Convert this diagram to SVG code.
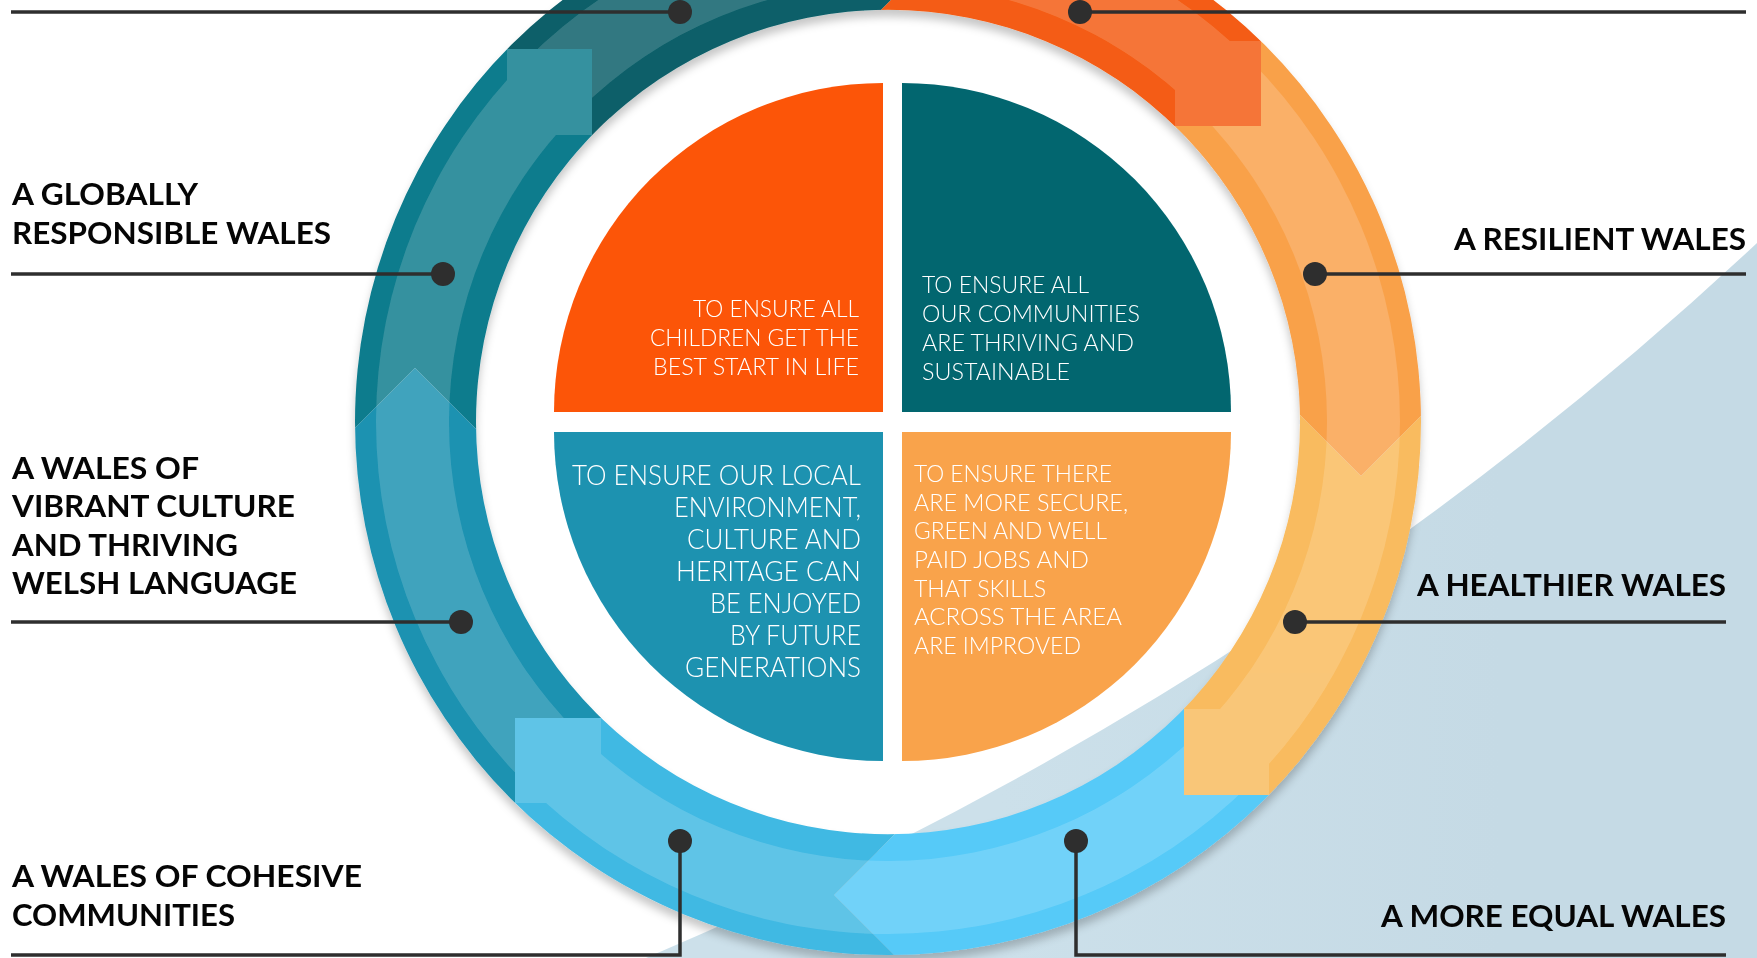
<svg xmlns="http://www.w3.org/2000/svg" width="1757" height="958" viewBox="0 0 1757 958">
<defs>
<style>
.lbl{font-family:Lato,"Liberation Sans",sans-serif;font-weight:700;font-size:31px;fill:#050505}
.qt{font-family:Lato,"Liberation Sans",sans-serif;font-weight:300;font-size:23.5px;fill:#ffffff}
.qb{font-size:26.5px}
.lead{fill:none;stroke:#2e2e2e;stroke-width:3.5}
.dot{fill:#2e2e2e}
</style>
<clipPath id="ringClip">
<path clip-rule="evenodd" d="M355,422 A533,533 0 1 0 1421,422 A533,533 0 1 0 355,422 Z M476,422 A412,412 0 1 0 1300,422 A412,412 0 1 0 476,422 Z"/>
</clipPath>
<linearGradient id="bgGrad" x1="1000" y1="0" x2="1500" y2="0" gradientUnits="userSpaceOnUse">
<stop offset="0" stop-color="#cce0ea"/>
<stop offset="1" stop-color="#c5dae5"/>
</linearGradient>
<filter id="ringShadow" x="-10%" y="-10%" width="120%" height="125%">
<feDropShadow dx="0" dy="7" stdDeviation="4" flood-color="#000" flood-opacity="0.22"/>
</filter>
<polygon id="segA" points="288,495 415,368 488,441 888,422 592,222 592,49 288,49"/>
<polygon id="segB" points="592,49 288,49 288,-211 782,-211 942,-51 869,22 888,422 592,222"/>
<rect id="tailRect" x="507" y="49" width="85" height="86"/>
</defs>

<rect width="1757" height="958" fill="#ffffff"/>
<path id="background" d="M646,958 Q1279,690 1757,243 L1757,958 Z" fill="url(#bgGrad)"/>

<g id="ring" filter="url(#ringShadow)">
<g clip-path="url(#ringClip)">
<use href="#segA" fill="#0f7c8d"/>
<use href="#segB" fill="#0b5f69"/>
<use href="#segA" fill="#f45b12" transform="rotate(90 888 422)"/>
<use href="#segB" fill="#f9a14a" transform="rotate(90 888 422)"/>
<use href="#segA" fill="#f9bb5e" transform="rotate(180 888 422)"/>
<use href="#segB" fill="#56caf8" transform="rotate(180 888 422)"/>
<use href="#segA" fill="#40b9e3" transform="rotate(270 888 422)"/>
<use href="#segB" fill="#1c92b1" transform="rotate(270 888 422)"/>
<g opacity="0.16" fill="#ffffff">
<path fill-rule="evenodd" d="M376,422 A512,512 0 1 0 1400,422 A512,512 0 1 0 376,422 Z M449,422 A439,439 0 1 0 1327,422 A439,439 0 1 0 449,422 Z"/>
<use href="#tailRect"/>
<use href="#tailRect" transform="rotate(90 888 422)"/>
<use href="#tailRect" transform="rotate(180 888 422)"/>
<use href="#tailRect" transform="rotate(270 888 422)"/>
</g>
</g>
</g>

<g id="q-children">
<path d="M883,412 H554 A329,329 0 0 1 883,83 Z" fill="#fc5508"/>
<text class="qt" text-anchor="end" x="859" y="317" textLength="166" lengthAdjust="spacingAndGlyphs">TO ENSURE ALL</text>
<text class="qt" text-anchor="end" x="859" y="346" textLength="209" lengthAdjust="spacingAndGlyphs">CHILDREN GET THE</text>
<text class="qt" text-anchor="end" x="859" y="375" textLength="206" lengthAdjust="spacingAndGlyphs">BEST START IN LIFE</text>
</g>

<g id="q-communities">
<path d="M902,412 V83 A329,329 0 0 1 1231,412 Z" fill="#02666f"/>
<text class="qt" x="922" y="293" textLength="167" lengthAdjust="spacingAndGlyphs">TO ENSURE ALL</text>
<text class="qt" x="922" y="322" textLength="218" lengthAdjust="spacingAndGlyphs">OUR COMMUNITIES</text>
<text class="qt" x="922" y="351" textLength="212" lengthAdjust="spacingAndGlyphs">ARE THRIVING AND</text>
<text class="qt" x="922" y="380" textLength="148" lengthAdjust="spacingAndGlyphs">SUSTAINABLE</text>
</g>

<g id="q-environment">
<path d="M883,432 V761 A329,329 0 0 1 554,432 Z" fill="#1d92b0"/>
<text class="qt qb" text-anchor="end" x="861" y="485" textLength="289" lengthAdjust="spacingAndGlyphs">TO ENSURE OUR LOCAL</text>
<text class="qt qb" text-anchor="end" x="861" y="517" textLength="187" lengthAdjust="spacingAndGlyphs">ENVIRONMENT,</text>
<text class="qt qb" text-anchor="end" x="861" y="549" textLength="174" lengthAdjust="spacingAndGlyphs">CULTURE AND</text>
<text class="qt qb" text-anchor="end" x="861" y="581" textLength="185" lengthAdjust="spacingAndGlyphs">HERITAGE CAN</text>
<text class="qt qb" text-anchor="end" x="861" y="613" textLength="151" lengthAdjust="spacingAndGlyphs">BE ENJOYED</text>
<text class="qt qb" text-anchor="end" x="861" y="645" textLength="131" lengthAdjust="spacingAndGlyphs">BY FUTURE</text>
<text class="qt qb" text-anchor="end" x="861" y="677" textLength="176" lengthAdjust="spacingAndGlyphs">GENERATIONS</text>
</g>

<g id="q-jobs">
<path d="M902,432 H1231 A329,329 0 0 1 902,761 Z" fill="#f9a34b"/>
<text class="qt" x="914" y="482" textLength="198" lengthAdjust="spacingAndGlyphs">TO ENSURE THERE</text>
<text class="qt" x="914" y="510.7" textLength="214" lengthAdjust="spacingAndGlyphs">ARE MORE SECURE,</text>
<text class="qt" x="914" y="539.3" textLength="193" lengthAdjust="spacingAndGlyphs">GREEN AND WELL</text>
<text class="qt" x="914" y="568" textLength="175" lengthAdjust="spacingAndGlyphs">PAID JOBS AND</text>
<text class="qt" x="914" y="596.7" textLength="132" lengthAdjust="spacingAndGlyphs">THAT SKILLS</text>
<text class="qt" x="914" y="625.3" textLength="208" lengthAdjust="spacingAndGlyphs">ACROSS THE AREA</text>
<text class="qt" x="914" y="654" textLength="167" lengthAdjust="spacingAndGlyphs">ARE IMPROVED</text>
</g>

<g id="connectors">
<path class="lead" d="M11,12 H680"/>
<circle class="dot" cx="680" cy="12" r="12"/>
<path class="lead" d="M1080,12 H1746"/>
<circle class="dot" cx="1080" cy="12" r="12"/>
<path class="lead" d="M11,274 H443"/>
<circle class="dot" cx="443" cy="274" r="12"/>
<path class="lead" d="M1315,274 H1746"/>
<circle class="dot" cx="1315" cy="274" r="12"/>
<path class="lead" d="M11,622 H461"/>
<circle class="dot" cx="461" cy="622" r="12"/>
<path class="lead" d="M1295,622 H1726"/>
<circle class="dot" cx="1295" cy="622" r="12"/>
<path class="lead" d="M680,841 V955 H11"/>
<circle class="dot" cx="680" cy="841" r="12"/>
<path class="lead" d="M1076,841 V955 H1726"/>
<circle class="dot" cx="1076" cy="841" r="12"/>
</g>

<g id="lbl-globally">
<text class="lbl" x="12" y="205" textLength="186" lengthAdjust="spacingAndGlyphs">A GLOBALLY</text>
<text class="lbl" x="12" y="244" textLength="319" lengthAdjust="spacingAndGlyphs">RESPONSIBLE WALES</text>
</g>
<g id="lbl-resilient">
<text class="lbl" text-anchor="end" x="1746" y="250" textLength="292" lengthAdjust="spacingAndGlyphs">A RESILIENT WALES</text>
</g>
<g id="lbl-culture">
<text class="lbl" x="12" y="479" textLength="187" lengthAdjust="spacingAndGlyphs">A WALES OF</text>
<text class="lbl" x="12" y="517" textLength="283" lengthAdjust="spacingAndGlyphs">VIBRANT CULTURE</text>
<text class="lbl" x="12" y="556" textLength="226" lengthAdjust="spacingAndGlyphs">AND THRIVING</text>
<text class="lbl" x="12" y="594" textLength="285" lengthAdjust="spacingAndGlyphs">WELSH LANGUAGE</text>
</g>
<g id="lbl-healthier">
<text class="lbl" text-anchor="end" x="1726" y="596" textLength="309" lengthAdjust="spacingAndGlyphs">A HEALTHIER WALES</text>
</g>
<g id="lbl-cohesive">
<text class="lbl" x="12" y="887" textLength="350" lengthAdjust="spacingAndGlyphs">A WALES OF COHESIVE</text>
<text class="lbl" x="12" y="926" textLength="223" lengthAdjust="spacingAndGlyphs">COMMUNITIES</text>
</g>
<g id="lbl-equal">
<text class="lbl" text-anchor="end" x="1726" y="927" textLength="345" lengthAdjust="spacingAndGlyphs">A MORE EQUAL WALES</text>
</g>
</svg>
